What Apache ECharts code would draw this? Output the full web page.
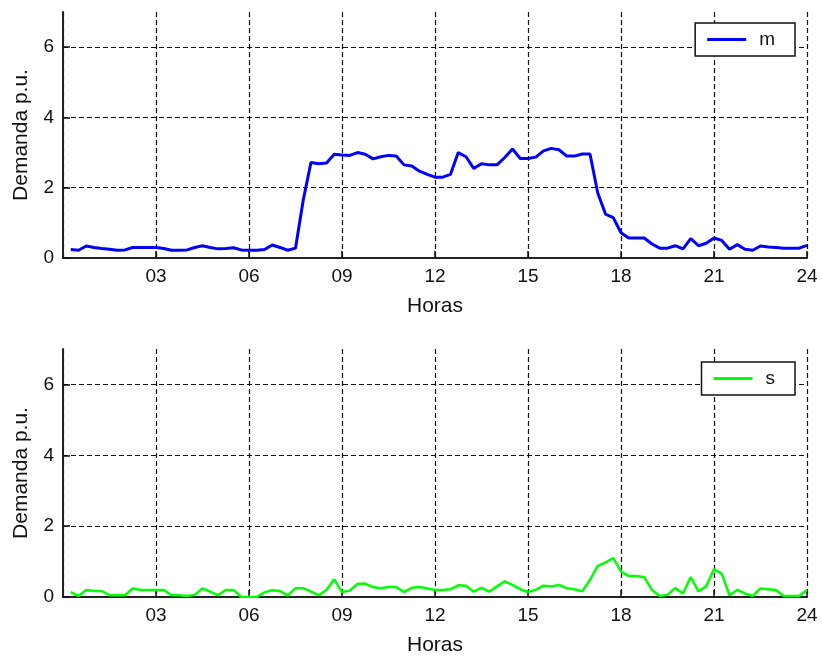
<!DOCTYPE html>
<html>
<head>
<meta charset="utf-8">
<title>Demanda</title>
<script src="https://cdn.jsdelivr.net/npm/echarts@6/dist/echarts.min.js"></script>
<style>
  html, body { margin: 0; padding: 0; background: #fff; }
  #chart { width: 822px; height: 657px; }
</style>
</head>
<body>
<div id="chart"></div>
<script>
// horas (cada 15 min)
var horas = [];
for (var i = 1; i <= 96; i++) horas.push(i * 0.25);

// demanda m (p.u.)
var demandaM = [
  0.24, 0.22, 0.34, 0.30, 0.27, 0.25, 0.22, 0.23, 0.30, 0.30, 0.30, 0.30,
  0.27, 0.22, 0.22, 0.23, 0.30, 0.35, 0.30, 0.26, 0.27, 0.29, 0.23, 0.22,
  0.22, 0.24, 0.37, 0.30, 0.22, 0.28, 1.65, 2.72, 2.68, 2.70, 2.95, 2.93,
  2.92, 3.00, 2.95, 2.82, 2.88, 2.92, 2.90, 2.65, 2.62, 2.47, 2.38, 2.30,
  2.30, 2.38, 3.00, 2.88, 2.55, 2.68, 2.65, 2.65, 2.86, 3.10, 2.83, 2.83,
  2.87, 3.05, 3.12, 3.08, 2.90, 2.90, 2.96, 2.96, 1.85, 1.25, 1.15, 0.72,
  0.57, 0.57, 0.57, 0.40, 0.28, 0.28, 0.35, 0.26, 0.55, 0.35, 0.42, 0.57,
  0.50, 0.25, 0.38, 0.25, 0.22, 0.34, 0.31, 0.30, 0.28, 0.28, 0.28, 0.36
];

// demanda s (p.u.)
var demandaS = [
  0.14, 0.03, 0.20, 0.17, 0.17, 0.05, 0.05, 0.05, 0.24, 0.20, 0.20, 0.20,
  0.20, 0.05, 0.05, 0.03, 0.06, 0.24, 0.15, 0.05, 0.20, 0.20, 0.00, 0.00,
  0.00, 0.13, 0.19, 0.17, 0.04, 0.25, 0.25, 0.15, 0.05, 0.20, 0.50, 0.14,
  0.18, 0.37, 0.38, 0.28, 0.25, 0.28, 0.28, 0.14, 0.26, 0.28, 0.24, 0.20,
  0.20, 0.22, 0.33, 0.32, 0.15, 0.26, 0.15, 0.30, 0.44, 0.34, 0.22, 0.14,
  0.20, 0.32, 0.30, 0.34, 0.25, 0.22, 0.16, 0.48, 0.88, 0.97, 1.10, 0.72,
  0.59, 0.59, 0.56, 0.20, 0.03, 0.06, 0.25, 0.10, 0.56, 0.16, 0.30, 0.78,
  0.66, 0.05, 0.20, 0.10, 0.03, 0.24, 0.22, 0.20, 0.03, 0.03, 0.03, 0.20
];

var xTicks = [3, 6, 9, 12, 15, 18, 21, 24];
var yTicks = [0, 2, 4, 6];

var font = 'Arial, "Liberation Sans", sans-serif';

function pares(vals) {
    return horas.map(function (h, k) { return [h, vals[k]]; });
}

function ejeX(idx) {
    return {
        type: 'value',
        gridIndex: idx,
        min: 0,
        max: 24,
        interval: 3,
        name: 'Horas',
        nameLocation: 'middle',
        nameGap: 38,
        nameTextStyle: { fontFamily: font, fontSize: 21, color: '#111' },
        axisLine: { show: true, onZero: false, lineStyle: { color: '#222', width: 2 } },
        axisTick: { show: true, inside: true, length: 7, lineStyle: { color: '#111', width: 1.5 } },
        axisLabel: {
            showMinLabel: false,
            margin: 9,
            fontFamily: font, fontSize: 19, color: '#111',
            formatter: function (v) {
                return xTicks.indexOf(v) >= 0 ? (v < 10 ? '0' + v : '' + v) : '';
            }
        },
        splitLine: { show: true, lineStyle: { color: '#111', width: 1.2, type: [5, 3] } }
    };
}

function ejeY(idx) {
    return {
        type: 'value',
        gridIndex: idx,
        min: 0,
        max: 7,
        interval: 2,
        name: 'Demanda p.u.',
        nameLocation: 'middle',
        nameGap: 31,
        nameRotate: 90,
        nameTextStyle: { fontFamily: font, fontSize: 21, color: '#111' },
        axisLine: { show: true, lineStyle: { color: '#222', width: 2 } },
        axisTick: { show: true, inside: true, length: 7, lineStyle: { color: '#111', width: 1.5 } },
        axisLabel: {
            showMaxLabel: false,
            margin: 9,
            fontFamily: font, fontSize: 19, color: '#111',
            formatter: function (v) { return yTicks.indexOf(v) >= 0 ? '' + v : ''; }
        },
        splitLine: { show: true, showMaxLine: false, lineStyle: { color: '#111', width: 1.2, type: [5, 3] } }
    };
}

function leyenda(nombre, top, pad) {
    return {
        data: [nombre],
        right: 27,
        top: top,
        orient: 'vertical',
        icon: 'rect',
        itemWidth: 39,
        itemHeight: 3,
        padding: pad,
        backgroundColor: '#fff',
        borderColor: '#111',
        borderWidth: 1.5,
        borderRadius: 0,
        textStyle: { fontFamily: font, fontSize: 19, color: '#111', padding: [0, 0, 0, 8] }
    };
}

var chart = echarts.init(document.getElementById('chart'), null, { renderer: 'canvas' });

chart.setOption({
    backgroundColor: '#fff',
    animation: false,
    grid: [
        { left: 63, right: 15, top: 12, height: 246 },
        { left: 63, right: 15, top: 349, height: 248 }
    ],
    legend: [
        leyenda('m', 23, [7, 20, 7, 12]),
        leyenda('s', 362, [7, 20, 7, 12])
    ],
    xAxis: [ejeX(0), ejeX(1)],
    yAxis: [ejeY(0), ejeY(1)],
    series: [
        {
            name: 'm',
            type: 'line',
            xAxisIndex: 0,
            yAxisIndex: 0,
            showSymbol: false,
            color: '#0000ff',
            lineStyle: { color: '#0000ff', width: 3 },
            data: pares(demandaM)
        },
        {
            name: 's',
            type: 'line',
            xAxisIndex: 1,
            yAxisIndex: 1,
            showSymbol: false,
            color: '#00ff00',
            lineStyle: { color: '#00ff00', width: 2.5 },
            data: pares(demandaS)
        }
    ]
});
</script>
</body>
</html>
